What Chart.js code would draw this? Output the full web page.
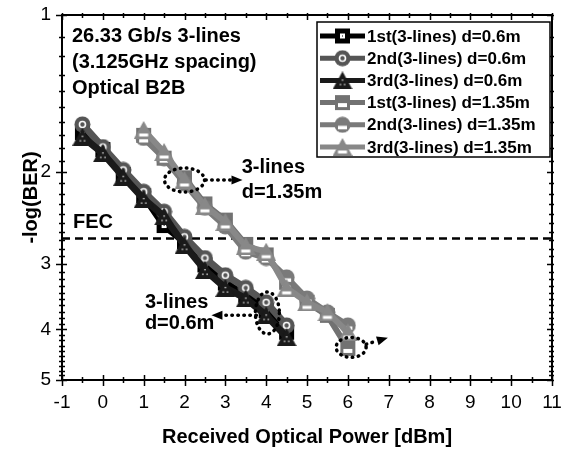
<!DOCTYPE html>
<html>
<head>
<meta charset="utf-8">
<script src="https://cdn.jsdelivr.net/npm/chart.js@4.4.1/dist/chart.umd.min.js"></script>
<style>
  html, body { margin: 0; padding: 0; background: #fff; }
</style>
</head>
<body>
<canvas id="berChart" width="567" height="452"></canvas>
<script>
// received power [dBm]
const xShort = [-0.5, 0, 0.5, 1, 1.5, 2, 2.5, 3, 3.5, 4, 4.5];
const xLong = [1, 1.5, 2, 2.5, 3, 3.5, 4, 4.5, 5, 5.5, 6];

// -log(BER), d=0.6m
const first06 = [1.68, 1.81, 2.02, 2.22, 2.53, 2.72, 3.01, 3.26, 3.44, 3.68, 4.05];
const second06 = [1.62, 1.79, 1.98, 2.18, 2.38, 2.66, 2.92, 3.15, 3.33, 3.55, 3.93];
const third06 = [1.71, 1.84, 2.04, 2.25, 2.43, 2.76, 3.08, 3.33, 3.49, 3.76, 4.14];

// -log(BER), d=1.35m
const first135 = [1.70, 1.88, 2.05, 2.30, 2.47, 2.75, 2.88, 3.25, 3.55, 3.76, 4.35];
const second135 = [1.72, 1.88, 2.10, 2.34, 2.54, 2.84, 2.92, 3.18, 3.49, 3.71, 3.93];
const third135 = [1.66, 1.83, 2.07, 2.32, 2.49, 2.77, 2.84, 3.33, 3.55, 3.71, 4.05];

const fecLevel = 2.68;
const xTicks = [-1, 0, 1, 2, 3, 4, 5, 6, 7, 8, 9, 10, 11];
const yTicks = [1, 2, 3, 4, 5];

const FAMILY = "'Liberation Sans', Arial, Helvetica, sans-serif";

// Origin-like symbols drawn on small canvases
function marker(shape, fill, style) {
  const c = document.createElement('canvas');
  const w = shape === 'triangle' ? 20 : 17;
  const h = shape === 'triangle' ? 18 : 17;
  c.width = w; c.height = h;
  const g = c.getContext('2d');
  g.fillStyle = fill;
  g.beginPath();
  if (shape === 'rect') g.rect(1, 1, 15, 15);
  else if (shape === 'circle') g.arc(8.5, 8.5, 8, 0, Math.PI * 2);
  else { g.moveTo(10, 0); g.lineTo(20, 18); g.lineTo(0, 18); g.closePath(); }
  g.fill();
  g.fillStyle = '#fff';
  g.strokeStyle = '#fff';
  if (style === 'dot') {
    if (shape === 'rect') {
      g.fillRect(6, 6, 5, 5);
      g.fillStyle = fill; g.fillRect(8, 8, 1, 1);
    } else if (shape === 'circle') {
      g.lineWidth = 1.6;
      g.beginPath(); g.arc(8.5, 8.5, 3, 0, Math.PI * 2); g.stroke();
    } else {
      g.fillRect(9.4, 8, 1.3, 1.3);
      g.fillRect(7.3, 12.5, 1.3, 1.3);
      g.fillRect(11.5, 12.5, 1.3, 1.3);
    }
  } else {
    if (shape === 'rect') g.fillRect(4, 9, 9, 4);
    else if (shape === 'circle') g.fillRect(4, 9.5, 9, 3.5);
    else g.fillRect(5.5, 12.5, 9, 3);
  }
  return c;
}

const series = [
  { label: '1st(3-lines) d=0.6m', xs: xShort, ys: first06, color: '#000', mk: marker('rect', '#000', 'dot'), lw: 7, order: 3 },
  { label: '2nd(3-lines) d=0.6m', xs: xShort, ys: second06, color: '#555', mk: marker('circle', '#555', 'dot'), lw: 7, order: 2 },
  { label: '3rd(3-lines) d=0.6m', xs: xShort, ys: third06, color: '#1a1a1a', mk: marker('triangle', '#1a1a1a', 'dot'), lw: 7, order: 1 },
  { label: '1st(3-lines) d=1.35m', xs: xLong, ys: first135, color: '#727272', mk: marker('rect', '#727272', 'half'), lw: 6, order: 6 },
  { label: '2nd(3-lines) d=1.35m', xs: xLong, ys: second135, color: '#7a7a7a', mk: marker('circle', '#7a7a7a', 'half'), lw: 6, order: 5 },
  { label: '3rd(3-lines) d=1.35m', xs: xLong, ys: third135, color: '#888', mk: marker('triangle', '#888', 'half'), lw: 6, order: 4 }
];

const datasets = series.map(s => ({
  label: s.label,
  data: s.xs.map((x, i) => ({ x: x, y: s.ys[i] })),
  borderColor: s.color,
  backgroundColor: s.color,
  borderWidth: s.lw,
  pointStyle: s.mk,
  pointRadius: 8,
  tension: 0,
  order: s.order
}));

// dotted ellipses with arrows, in data units (radii in px)
const callouts = [
  { cx: 2, cy: 2.07, rx: 20, ry: 12, from: [2.52, 2.07], to: [3.42, 2.07] },
  { cx: 4.03, cy: 3.72, rx: 12, ry: 21, from: [3.76, 3.76], to: [2.66, 3.76] },
  { cx: 6.08, cy: 4.33, rx: 15, ry: 10, from: [6.45, 4.27], to: [6.98, 4.15] }
];
const notes = [
  { text: '3-lines', x: 3.4, y: 1.955 },
  { text: 'd=1.35m', x: 3.4, y: 2.183 },
  { text: '3-lines', x: 1.03, y: 3.55 },
  { text: 'd=0.6m', x: 1.03, y: 3.89 },
  { text: 'FEC', x: -0.73, y: 2.5 }
];
const header = ['26.33 Gb/s 3-lines', '(3.125GHz spacing)', 'Optical B2B'];

function dottedArrow(ctx, x1, y1, x2, y2) {
  const ang = Math.atan2(y2 - y1, x2 - x1);
  const hl = 11, hw = 4.5;
  const bx = x2 - hl * Math.cos(ang), by = y2 - hl * Math.sin(ang);
  ctx.beginPath(); ctx.moveTo(x1, y1); ctx.lineTo(bx, by); ctx.stroke();
  ctx.save();
  ctx.setLineDash([]);
  ctx.beginPath();
  ctx.moveTo(x2, y2);
  ctx.lineTo(bx - hw * Math.sin(ang), by + hw * Math.cos(ang));
  ctx.lineTo(bx + hw * Math.sin(ang), by - hw * Math.cos(ang));
  ctx.closePath();
  ctx.fill();
  ctx.restore();
}

const framePlugin = {
  id: 'frame',
  beforeDatasetsDraw(chart) {
    const { ctx, chartArea: a, scales: { y } } = chart;
    const py = y.getPixelForValue(fecLevel);
    ctx.save();
    ctx.strokeStyle = '#000';
    ctx.lineWidth = 2.5;
    ctx.setLineDash([8, 5]);
    ctx.beginPath(); ctx.moveTo(a.left, py); ctx.lineTo(a.right, py); ctx.stroke();
    ctx.restore();
  },
  afterDatasetsDraw(chart) {
    const { ctx, chartArea: a, scales: { x, y } } = chart;
    ctx.save();
    ctx.strokeStyle = '#000';
    ctx.fillStyle = '#000';

    // ticks on all four sides
    ctx.lineWidth = 1.5;
    ctx.beginPath();
    for (let v = -1; v <= 11.001; v += 0.5) {
      const px = Math.round(x.getPixelForValue(v)) + 0.5;
      const big = Math.abs(v - Math.round(v)) < 1e-6;
      ctx.moveTo(px, a.bottom + (big ? 6 : 3)); ctx.lineTo(px, a.bottom - (big ? 5 : 3));
      ctx.moveTo(px, a.top - 2); ctx.lineTo(px, a.top + (big ? 5 : 3));
    }
    for (let d = 1; d <= 5; d++) {
      for (let k = 0; k < 10; k++) {
        if (d === 5 && k > 0) break;
        const py = Math.round(y.getPixelForValue(d + k / 10)) + 0.5;
        const big = k === 0;
        ctx.moveTo(a.left - (big ? 6 : 3), py); ctx.lineTo(a.left + (big ? 5 : 3), py);
        ctx.moveTo(a.right - (big ? 5 : 3), py); ctx.lineTo(a.right + 2, py);
      }
    }
    ctx.stroke();

    ctx.lineWidth = 2;
    ctx.strokeRect(a.left, a.top, a.right - a.left, a.bottom - a.top);

    // callouts
    ctx.lineWidth = 3.5;
    ctx.lineCap = 'round';
    ctx.setLineDash([0.5, 5.5]);
    callouts.forEach(c => {
      ctx.beginPath();
      ctx.ellipse(x.getPixelForValue(c.cx), y.getPixelForValue(c.cy), c.rx, c.ry, 0, 0, Math.PI * 2);
      ctx.stroke();
      dottedArrow(ctx, x.getPixelForValue(c.from[0]), y.getPixelForValue(c.from[1]),
        x.getPixelForValue(c.to[0]), y.getPixelForValue(c.to[1]));
    });
    ctx.setLineDash([]);

    // text
    ctx.font = 'bold 20px ' + FAMILY;
    ctx.textAlign = 'left';
    ctx.textBaseline = 'middle';
    notes.forEach(n => ctx.fillText(n.text, x.getPixelForValue(n.x), y.getPixelForValue(n.y)));
    header.forEach((t, i) => ctx.fillText(t, a.left + 10, a.top + 21 + i * 26));

    // legend
    const lw = 233, lh = 135;
    const lx = a.right - 2 - lw, ly = a.top + 7;
    ctx.fillStyle = '#fff';
    ctx.fillRect(lx, ly, lw, lh);
    ctx.lineWidth = 1.5;
    ctx.strokeStyle = '#000';
    ctx.strokeRect(lx, ly, lw, lh);
    ctx.font = 'bold 17px ' + FAMILY;
    series.forEach((s, i) => {
      const cy = ly + 14 + i * 22.2;
      ctx.strokeStyle = s.color;
      ctx.lineWidth = 5;
      ctx.lineCap = 'butt';
      ctx.beginPath(); ctx.moveTo(lx + 3, cy); ctx.lineTo(lx + 48, cy); ctx.stroke();
      ctx.drawImage(s.mk, lx + 25.5 - s.mk.width / 2, cy - s.mk.height / 2);
      ctx.fillStyle = '#000';
      ctx.fillText(s.label, lx + 50, cy + 1);
    });
    ctx.restore();
  }
};

const tickFont = { family: FAMILY, size: 19 };
const titleFont = { family: FAMILY, size: 20, weight: 'bold' };

function noPad(s) {
  s.paddingTop = 0; s.paddingBottom = 0; s.paddingLeft = 0; s.paddingRight = 0;
}

new Chart(document.getElementById('berChart'), {
  type: 'line',
  data: { datasets: datasets },
  options: {
    responsive: false,
    animation: false,
    devicePixelRatio: 1,
    layout: { padding: { top: 15, right: 14, left: 0, bottom: 0 } },
    plugins: { legend: { display: false }, tooltip: { enabled: false } },
    scales: {
      x: {
        type: 'linear', min: -1, max: 11,
        afterBuildTicks: s => { s.ticks = xTicks.map(v => ({ value: v })); },
        afterFit: s => { s.height = 72; noPad(s); },
        ticks: { font: tickFont, color: '#000', padding: 11, maxRotation: 0, autoSkip: false },
        grid: { display: false, drawTicks: false },
        border: { display: false },
        title: { display: true, text: 'Received Optical Power [dBm]', font: titleFont, color: '#000', padding: { top: 0, bottom: 3 } }
      },
      y: {
        type: 'logarithmic', reverse: true, min: 1, max: 5,
        afterBuildTicks: s => { s.ticks = yTicks.map(v => ({ value: v })); },
        afterFit: s => { s.width = 62; noPad(s); },
        ticks: { font: tickFont, color: '#000', padding: 11, autoSkip: false, callback: v => String(v) },
        grid: { display: false, drawTicks: false },
        border: { display: false },
        title: { display: true, text: '-log(BER)', font: titleFont, color: '#000', padding: { top: 19, bottom: 0 } }
      }
    }
  },
  plugins: [framePlugin]
});
</script>
</body>
</html>
